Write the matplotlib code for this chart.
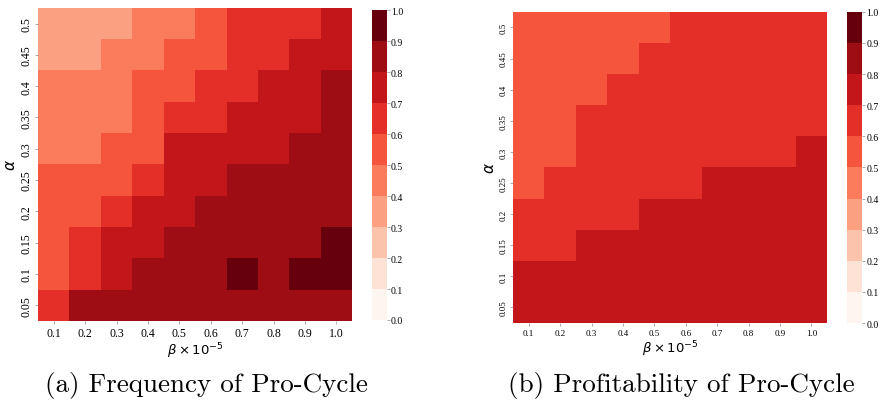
import numpy as np
import matplotlib.pyplot as plt

# eixos
betas = ["0.1", "0.2", "0.3", "0.4", "0.5", "0.6", "0.7", "0.8", "0.9", "1.0"]
alphas = ["0.05", "0.1", "0.15", "0.2", "0.25", "0.3", "0.35", "0.4", "0.45", "0.5"]

# (a) frequencia - linhas de alpha=0.05 (baixo) ate alpha=0.5 (topo)
freq = [
    [0.65, 0.85, 0.85, 0.85, 0.85, 0.85, 0.85, 0.85, 0.85, 0.85],
    [0.55, 0.65, 0.75, 0.85, 0.85, 0.85, 0.95, 0.85, 0.95, 0.95],
    [0.55, 0.65, 0.75, 0.75, 0.85, 0.85, 0.85, 0.85, 0.85, 0.95],
    [0.55, 0.55, 0.65, 0.75, 0.75, 0.85, 0.85, 0.85, 0.85, 0.85],
    [0.55, 0.55, 0.55, 0.65, 0.75, 0.75, 0.85, 0.85, 0.85, 0.85],
    [0.45, 0.45, 0.55, 0.55, 0.75, 0.75, 0.75, 0.75, 0.85, 0.85],
    [0.45, 0.45, 0.45, 0.55, 0.65, 0.65, 0.75, 0.75, 0.75, 0.85],
    [0.45, 0.45, 0.45, 0.55, 0.55, 0.65, 0.65, 0.75, 0.75, 0.85],
    [0.35, 0.35, 0.45, 0.45, 0.55, 0.55, 0.65, 0.65, 0.75, 0.75],
    [0.35, 0.35, 0.35, 0.45, 0.45, 0.55, 0.65, 0.65, 0.65, 0.75],
]

# (b) lucratividade
profit = [
    [0.75, 0.75, 0.75, 0.75, 0.75, 0.75, 0.75, 0.75, 0.75, 0.75],
    [0.75, 0.75, 0.75, 0.75, 0.75, 0.75, 0.75, 0.75, 0.75, 0.75],
    [0.65, 0.65, 0.75, 0.75, 0.75, 0.75, 0.75, 0.75, 0.75, 0.75],
    [0.65, 0.65, 0.65, 0.65, 0.75, 0.75, 0.75, 0.75, 0.75, 0.75],
    [0.55, 0.65, 0.65, 0.65, 0.65, 0.65, 0.75, 0.75, 0.75, 0.75],
    [0.55, 0.55, 0.65, 0.65, 0.65, 0.65, 0.65, 0.65, 0.65, 0.75],
    [0.55, 0.55, 0.65, 0.65, 0.65, 0.65, 0.65, 0.65, 0.65, 0.65],
    [0.55, 0.55, 0.55, 0.65, 0.65, 0.65, 0.65, 0.65, 0.65, 0.65],
    [0.55, 0.55, 0.55, 0.55, 0.65, 0.65, 0.65, 0.65, 0.65, 0.65],
    [0.55, 0.55, 0.55, 0.55, 0.55, 0.65, 0.65, 0.65, 0.65, 0.65],
]

captions = ["(a) Frequency of Pro-Cycle", "(b) Profitability of Pro-Cycle"]

cmap = plt.get_cmap("Reds", 10)
serif = "Liberation Serif"

fig = plt.figure(figsize=(8.8, 4.02), dpi=100)

# posicoes: [heatmap, colorbar, tamanho dos ticks, centro da legenda]
paineis = [
    (freq, [0.0432, 0.199, 0.357, 0.779], [0.4227, 0.2015, 0.017, 0.771], 8.5, 206),
    (profit, [0.583, 0.194, 0.357, 0.774], [0.9625, 0.194, 0.017, 0.774], 6.5, 681),
]

for (dados, pos_ax, pos_cb, fs, cx), cap in zip(paineis, captions):
    ax = fig.add_axes(pos_ax)
    cax = fig.add_axes(pos_cb)
    mesh = ax.pcolormesh(np.array(dados), cmap=cmap, vmin=0, vmax=1)
    ax.set_xticks(np.arange(len(betas)) + 0.5)
    ax.set_xticklabels(betas, fontsize=fs, family=serif)
    ax.set_yticks(np.arange(len(alphas)) + 0.5)
    ax.set_yticklabels(alphas, fontsize=fs, family=serif, rotation=90, va="center")
    ax.tick_params(length=2, width=0.5, color="#888888", pad=2)
    for s in ax.spines.values():
        s.set_visible(False)
    ax.set_xlabel(r"$\beta \times 10^{-5}$", fontsize=9.5, labelpad=1)
    ax.set_ylabel(r"$\alpha$", fontsize=11, labelpad=2)

    cb = fig.colorbar(mesh, cax=cax, ticks=np.linspace(0, 1, 11))
    cb.outline.set_visible(False)
    cax.set_yticklabels([f"{v:.1f}" for v in np.linspace(0, 1, 11)], fontsize=7, family=serif)
    cax.tick_params(length=2, width=0.5, color="#888888", pad=1)

    fig.text(cx / 880, 0.025, cap, ha="center", va="baseline", fontsize=19.5, family="cmr10")

plt.savefig("out.png", dpi=100)
